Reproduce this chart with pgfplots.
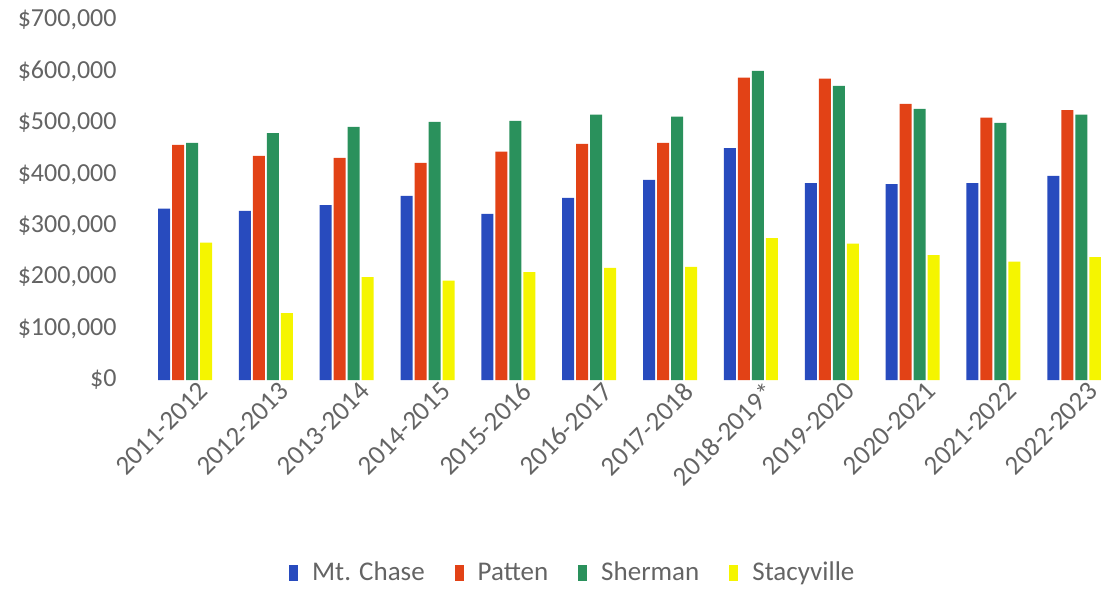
\documentclass[border=0pt]{standalone}
\usepackage{pgfplots}
\pgfplotsset{compat=1.18}
\usepackage{fontspec}
\setmainfont{Carlito}
\definecolor{cblue}{RGB}{40,75,190}
\definecolor{cred}{RGB}{226,66,22}
\definecolor{cgreen}{RGB}{42,145,92}
\definecolor{cyellow}{RGB}{245,245,0}
\definecolor{ctext}{RGB}{100,100,100}
\begin{document}
\begin{tikzpicture}
\begin{axis}[
  name=ax,
  scale only axis,
  width=479pt, height=180pt,
  ybar=1pt, bar width=6pt,
  xmin=-0.5, xmax=11.35, ymin=0, ymax=700000,
  axis line style={draw=none},
  major tick length=0pt,
  xtick={0,...,11},
  xticklabels={2011-2012,2012-2013,2013-2014,2014-2015,2015-2016,2016-2017,2017-2018,2018-2019*,2019-2020,2020-2021,2021-2022,2022-2023},
  x tick label style={rotate=45, anchor=north east, font=\fontsize{13.5}{15}\selectfont, text=ctext, xshift=7.5pt, yshift=-1pt},
  ytick={0,100000,200000,300000,400000,500000,600000,700000},
  yticklabels={{\$0},{\$100,000},{\$200,000},{\$300,000},{\$400,000},{\$500,000},{\$600,000},{\$700,000}},
  scaled y ticks=false,
  y tick label style={font=\fontsize{13}{15}\selectfont, text=ctext, xshift=-10.5pt},
  legend columns=4,
  legend style={at={(0.448,-0.536)}, anchor=center, draw=none, fill=none,
    font=\fontsize{13.5}{15}\selectfont, text=ctext,
    /tikz/every odd column/.append style={column sep=5pt},
    /tikz/every even column/.append style={column sep=13pt}},
  legend image code/.code={\fill[#1,draw=none] (0pt,-4pt) rectangle (4.5pt,4pt);},
]
\addplot[fill=cblue, draw=none] coordinates {(0,333000) (1,329000) (2,340000) (3,358000) (4,323000) (5,354000) (6,389000) (7,451000) (8,383000) (9,381000) (10,383000) (11,397000)};
\addplot[fill=cred, draw=none] coordinates {(0,457000) (1,436000) (2,432000) (3,422000) (4,444000) (5,459000) (6,461000) (7,588000) (8,586000) (9,537000) (10,510000) (11,525000)};
\addplot[fill=cgreen, draw=none] coordinates {(0,461000) (1,480000) (2,492000) (3,502000) (4,504000) (5,516000) (6,512000) (7,601000) (8,572000) (9,527000) (10,500000) (11,516000)};
\addplot[fill=cyellow, draw=none] coordinates {(0,267000) (1,130000) (2,200000) (3,193000) (4,210000) (5,218000) (6,220000) (7,276000) (8,265000) (9,243000) (10,230000) (11,239000)};
\legend{Mt. Chase, Patten, Sherman, Stacyville}
\end{axis}
\pgfresetboundingbox
\path[use as bounding box] ([shift={(-72.3pt,-105pt)}]ax.south west) rectangle ([shift={(-0.8pt,10pt)}]ax.north east);
\end{tikzpicture}
\end{document}
